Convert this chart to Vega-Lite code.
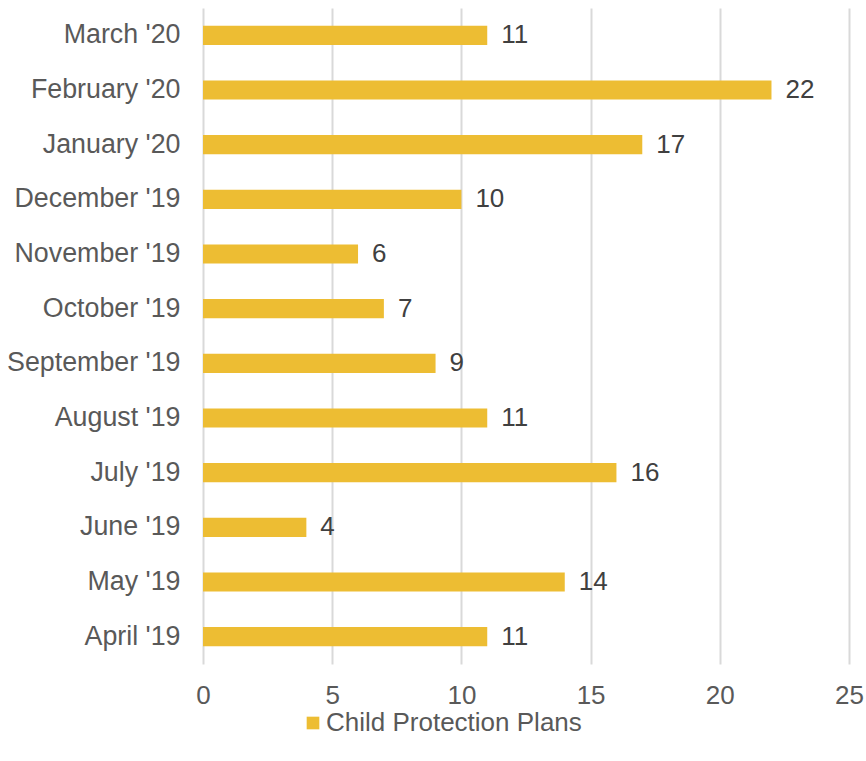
{
  "$schema": "https://vega.github.io/schema/vega-lite/v6.json",
  "width": 646,
  "height": 656,
  "autosize": "none",
  "padding": {"left": 203, "top": 8, "right": 17, "bottom": 97},
  "background": "white",
  "config": {
    "view": {"stroke": null},
    "font": "Liberation Sans"
  },
  "data": {
    "values": [
      {"month": "April '19", "plans": 11, "series": "Child Protection Plans"},
      {"month": "May '19", "plans": 14, "series": "Child Protection Plans"},
      {"month": "June '19", "plans": 4, "series": "Child Protection Plans"},
      {"month": "July '19", "plans": 16, "series": "Child Protection Plans"},
      {"month": "August '19", "plans": 11, "series": "Child Protection Plans"},
      {"month": "September '19", "plans": 9, "series": "Child Protection Plans"},
      {"month": "October '19", "plans": 7, "series": "Child Protection Plans"},
      {"month": "November '19", "plans": 6, "series": "Child Protection Plans"},
      {"month": "December '19", "plans": 10, "series": "Child Protection Plans"},
      {"month": "January '20", "plans": 17, "series": "Child Protection Plans"},
      {"month": "February '20", "plans": 22, "series": "Child Protection Plans"},
      {"month": "March '20", "plans": 11, "series": "Child Protection Plans"}
    ]
  },
  "encoding": {
    "y": {
      "field": "month",
      "type": "nominal",
      "sort": ["March '20", "February '20", "January '20", "December '19", "November '19", "October '19", "September '19", "August '19", "July '19", "June '19", "May '19", "April '19"],
      "scale": {"paddingInner": 0.65, "paddingOuter": 0.325},
      "axis": {
        "title": null,
        "domain": false,
        "ticks": false,
        "labelFontSize": 26.8,
        "labelColor": "#595959",
        "labelPadding": 23,
        "labelLimit": 300,
        "grid": false
      }
    },
    "x": {
      "field": "plans",
      "type": "quantitative",
      "scale": {"domain": [0, 25], "nice": false},
      "axis": {
        "title": null,
        "values": [0, 5, 10, 15, 20, 25],
        "domain": false,
        "ticks": false,
        "grid": true,
        "gridColor": "#d9d9d9",
        "gridWidth": 2,
        "labelFlush": false,
        "labelFontSize": 26,
        "labelColor": "#595959",
        "labelPadding": 18
      }
    }
  },
  "layer": [
    {
      "mark": {"type": "bar"},
      "encoding": {
        "color": {
          "field": "series",
          "type": "nominal",
          "scale": {"range": ["#EDBD33"]},
          "legend": {
            "title": null,
            "orient": "none",
            "legendX": 97,
            "legendY": 702,
            "symbolType": "square",
            "symbolSize": 160,
            "symbolStrokeWidth": 0,
            "labelFontSize": 26,
            "labelColor": "#595959",
            "labelOffset": 0,
            "labelLimit": 400
          }
        }
      }
    },
    {
      "mark": {"type": "text", "align": "left", "baseline": "middle", "dx": 14, "fontSize": 26, "color": "#404040"},
      "encoding": {
        "text": {"field": "plans", "type": "quantitative"}
      }
    }
  ]
}
